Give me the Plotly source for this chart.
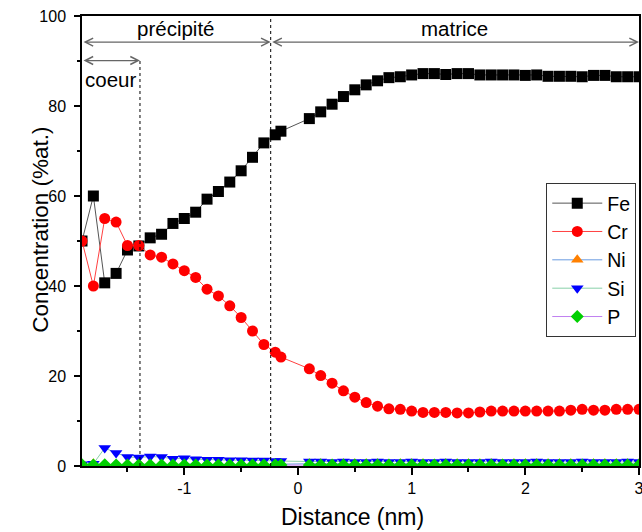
import plotly.graph_objects as go

# ---- data ----
distance = [-1.9, -1.8, -1.7, -1.6, -1.5, -1.4, -1.3, -1.2, -1.1, -1.0,
            -0.9, -0.8, -0.7, -0.6, -0.5, -0.4, -0.3, -0.2, -0.15,
            0.1, 0.2, 0.3, 0.4, 0.5, 0.6, 0.7, 0.8, 0.9, 1.0,
            1.1, 1.2, 1.3, 1.4, 1.5, 1.6, 1.7, 1.8, 1.9, 2.0,
            2.1, 2.2, 2.3, 2.4, 2.5, 2.6, 2.7, 2.8, 2.9, 3.0]

fe = [50, 60, 40.7, 42.8, 48, 48.9, 50.7, 51.5, 53.9, 55,
      56.4, 59.3, 61, 63.1, 65.6, 68.6, 71.8, 73.6, 74.4,
      77.2, 78.7, 80.4, 82.1, 83.6, 84.7, 85.6, 86.3, 86.5, 86.9,
      87.2, 87.2, 87.0, 87.2, 87.2, 86.9, 86.9, 86.9, 86.9, 86.8,
      86.9, 86.6, 86.6, 86.6, 86.5, 86.8, 86.8, 86.5, 86.5, 86.5]

cr = [50, 40, 55, 54.2, 49, 49, 46.9, 46.4, 44.9, 43.4,
      41.9, 39.3, 37.8, 35.6, 33, 30, 27, 25.3, 24.2,
      21.6, 20.1, 18.4, 16.7, 15.3, 14.1, 13.3, 12.7, 12.6, 12.2,
      11.9, 11.9, 11.9, 11.8, 11.8, 12.0, 12.2, 12.2, 12.2, 12.2,
      12.2, 12.2, 12.2, 12.4, 12.6, 12.4, 12.4, 12.6, 12.6, 12.6]

ni = [0.3, 0.5, 0.4, 0.3, 0.4, 0.5, 0.3, 0.4, 0.3, 0.5,
      0.4, 0.3, 0.4, 0.3, 0.4, 0.3, 0.4, 0.5, 0.4,
      0.5, 0.5, 0.4, 0.5, 0.5, 0.5, 0.5, 0.4, 0.5, 0.5,
      0.5, 0.4, 0.5, 0.5, 0.5, 0.5, 0.5, 0.4, 0.5, 0.5,
      0.5, 0.5, 0.5, 0.5, 0.4, 0.5, 0.5, 0.5, 0.5, 0.5]

si = [0.4, 0.5, 4.0, 2.9, 2.0, 1.9, 2.1, 2.0, 1.6, 1.7,
      1.5, 1.4, 1.4, 1.3, 1.3, 1.2, 1.2, 1.1, 1.1,
      1.0, 1.0, 0.9, 1.0, 0.9, 0.9, 1.0, 0.9, 0.9, 1.0,
      0.9, 0.9, 1.0, 0.9, 0.9, 0.9, 1.0, 0.9, 0.9, 0.9,
      1.0, 0.9, 0.9, 0.9, 1.0, 0.9, 0.9, 0.9, 1.0, 0.9]

p = [0.3, 0.2, 0.3, 0.2, 0.2, 0.2, 0.2, 0.2, 0.2, 0.2,
     0.2, 0.2, 0.2, 0.2, 0.2, 0.2, 0.2, 0.2, 0.2,
     0.2, 0.2, 0.2, 0.2, 0.2, 0.2, 0.2, 0.2, 0.2, 0.2,
     0.2, 0.2, 0.2, 0.2, 0.2, 0.2, 0.2, 0.2, 0.2, 0.2,
     0.2, 0.2, 0.2, 0.2, 0.2, 0.2, 0.2, 0.2, 0.2, 0.2]

# region boundaries (nm) and labels
x_min, x_max = -1.9, 3.0
core_end = -1.39
precip_end = -0.24
region_labels = ["précipité", "matrice", "coeur"]
x_title = "Distance (nm)"
y_title = "Concentration (%at.)"

FONT = "Liberation Sans, Arial, sans-serif"

series = [
    ("Fe", fe, "square", 11, "black", "#555555"),
    ("Cr", cr, "circle", 11, "#ff0000", "#ff4040"),
    ("Ni", ni, "triangle-up", 11, "#ff8000", "#6a9be0"),
    ("Si", si, "triangle-down", 11, "#0000ff", "#88d0a8"),
    ("P", p, "diamond", 10, "#00d000", "#c080f0"),
]

fig = go.Figure()
for name, vals, sym, size, mcol, lcol in series:
    fig.add_trace(go.Scatter(
        x=distance, y=vals, name=name, mode="lines+markers",
        line=dict(color=lcol, width=1),
        marker=dict(symbol=sym, size=size, color=mcol, line=dict(width=0)),
        cliponaxis=True,
    ))

shapes = [
    dict(type="line", xref="x", yref="y", x0=core_end, x1=core_end, y0=0, y1=90,
         line=dict(color="black", width=1, dash="dot")),
    dict(type="line", xref="x", yref="y", x0=precip_end, x1=precip_end, y0=0, y1=100,
         line=dict(color="black", width=1, dash="dot")),
]

arrow_style = dict(showarrow=True, arrowhead=5, arrowside="end+start", arrowsize=1.2,
                   arrowwidth=1.3, arrowcolor="#666666", text="", xref="x", yref="y",
                   axref="x", ayref="y", standoff=0, startstandoff=0)
annotations = [
    dict(x=precip_end, y=94.2, ax=x_min, ay=94.2, **arrow_style),
    dict(x=x_max, y=94.2, ax=precip_end, ay=94.2, **arrow_style),
    dict(x=core_end, y=90.1, ax=x_min, ay=90.1, **arrow_style),
    dict(x=(x_min + precip_end) / 2, y=97.3, text=region_labels[0], showarrow=False,
         xref="x", yref="y", font=dict(size=20.5, color="black", family=FONT)),
    dict(x=(precip_end + x_max) / 2, y=97.3, text=region_labels[1], showarrow=False,
         xref="x", yref="y", font=dict(size=20.5, color="black", family=FONT)),
    dict(x=x_min + 0.01, y=85.8, text=region_labels[2], showarrow=False, xanchor="left",
         xref="x", yref="y", font=dict(size=20.5, color="black", family=FONT)),
    # axis titles
    dict(x=0.4865, y=0, xref="paper", yref="paper", yshift=-51, text=x_title,
         showarrow=False, xanchor="center", yanchor="middle",
         font=dict(size=23, color="black", family=FONT)),
    dict(x=0, y=0.525, xref="paper", yref="paper", xshift=-41, text=y_title,
         showarrow=False, textangle=-90, xanchor="center", yanchor="middle",
         font=dict(size=22.5, color="black", family=FONT)),
]

fig.update_layout(
    width=642, height=532,
    margin=dict(l=82, r=3, t=16, b=66, autoexpand=False),
    paper_bgcolor="white", plot_bgcolor="white",
    font=dict(family=FONT, color="black"),
    shapes=shapes, annotations=annotations,
    legend=dict(x=0.8335, y=0.629, xanchor="left", yanchor="top",
                bgcolor="white", bordercolor="#333333", borderwidth=1,
                font=dict(size=19.5, family=FONT, color="black"),
                tracegroupgap=0, itemwidth=50),
    showlegend=True,
)
fig.update_xaxes(
    range=[x_min, x_max], showgrid=False, zeroline=False,
    showline=True, linecolor="black", linewidth=1.5, mirror=True,
    ticks="outside", ticklen=7, tickwidth=1.5, tickcolor="black",
    tickvals=[-1, 0, 1, 2, 3], ticktext=["-1", "0", "1", "2", "3"],
    tickfont=dict(size=16, family=FONT, color="black"),
    ticklabeloverflow="allow",
    minor=dict(tickvals=[-1.5, -0.5, 0.5, 1.5, 2.5], ticks="outside", ticklen=4,
               tickwidth=1.5, tickcolor="black"),
)
fig.update_yaxes(
    range=[0, 100], showgrid=False, zeroline=False,
    showline=True, linecolor="black", linewidth=1.5, mirror=True,
    ticks="outside", ticklen=6, tickwidth=1.5, tickcolor="black",
    tickvals=[0, 20, 40, 60, 80, 100],
    tickfont=dict(size=16, family=FONT, color="black"),
    ticklabeloverflow="allow", ticklabelstandoff=5,
    minor=dict(tickvals=[10, 30, 50, 70, 90], ticks="outside", ticklen=3,
               tickwidth=1.5, tickcolor="black"),
)

fig.write_html(
    "out.html",
    config={"displayModeBar": False},
    post_script="document.body.style.margin='0';"
                "document.documentElement.style.overflow='hidden';",
)
